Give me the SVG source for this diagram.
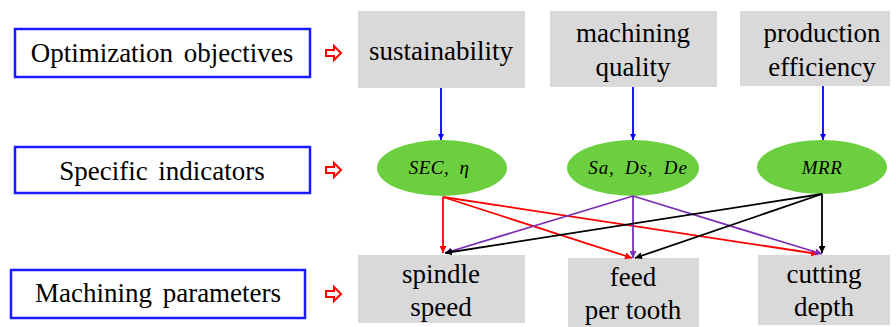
<svg xmlns="http://www.w3.org/2000/svg" width="896" height="327" viewBox="0 0 896 327">
<defs>
<marker id="mb" viewBox="0 0 10 10" refX="10" refY="5" markerWidth="6" markerHeight="6" orient="auto" markerUnits="userSpaceOnUse"><path d="M0,0L10,5L0,10z" fill="#0000ff"/></marker>
<marker id="mr" viewBox="0 0 10 10" refX="10" refY="5" markerWidth="7" markerHeight="7" orient="auto" markerUnits="userSpaceOnUse"><path d="M0,0L10,5L0,10z" fill="#ff0000"/></marker>
<marker id="mp" viewBox="0 0 10 10" refX="10" refY="5" markerWidth="7" markerHeight="7" orient="auto" markerUnits="userSpaceOnUse"><path d="M0,0L10,5L0,10z" fill="#7b2fb5"/></marker>
<marker id="mk" viewBox="0 0 10 10" refX="10" refY="5" markerWidth="7" markerHeight="7" orient="auto" markerUnits="userSpaceOnUse"><path d="M0,0L10,5L0,10z" fill="#000"/></marker>
<path id="harrow" d="M0,-3L8,-3L8,-7L15,0L8,7L8,3L0,3z" fill="#fff" stroke="#ff0000" stroke-width="2"/>
</defs>

<g id="label-objectives"><rect x="15" y="29" width="295" height="48" fill="#fff" stroke="#1a1aff" stroke-width="2.5"/><text x="162" y="62" font-family="Liberation Serif" font-size="27" text-anchor="middle" word-spacing="4" style="font-family:'Liberation Serif',serif !important">Optimization objectives</text><use href="#harrow" x="326" y="53"/></g>
<g id="label-indicators"><rect x="15" y="147" width="295" height="46" fill="#fff" stroke="#1a1aff" stroke-width="2.5"/><text x="162" y="180" font-family="Liberation Serif" font-size="27" text-anchor="middle" word-spacing="4" style="font-family:'Liberation Serif',serif !important">Specific indicators</text><use href="#harrow" x="326" y="170"/></g>
<g id="label-parameters"><rect x="11" y="270" width="294" height="48" fill="#fff" stroke="#1a1aff" stroke-width="2.5"/><text x="158" y="302" font-family="Liberation Serif" font-size="27" text-anchor="middle" word-spacing="4" style="font-family:'Liberation Serif',serif !important">Machining parameters</text><use href="#harrow" x="326" y="294"/></g>

<g id="sustainability"><rect x="358" y="11" width="167" height="77" fill="#d9d9d9"/><text x="441" y="60" font-family="Liberation Serif" font-size="27" text-anchor="middle" style="font-family:'Liberation Serif',serif !important">sustainability</text></g>
<g id="machining-quality"><rect x="550" y="11" width="167" height="76" fill="#d9d9d9"/><text x="633" y="42" font-family="Liberation Serif" font-size="27" text-anchor="middle" style="font-family:'Liberation Serif',serif !important">machining</text><text x="633" y="76" font-family="Liberation Serif" font-size="27" text-anchor="middle" style="font-family:'Liberation Serif',serif !important">quality</text></g>
<g id="production-efficiency"><rect x="740" y="11" width="150" height="75" fill="#d9d9d9"/><text x="822" y="42" font-family="Liberation Serif" font-size="27" text-anchor="middle" style="font-family:'Liberation Serif',serif !important">production</text><text x="822" y="76" font-family="Liberation Serif" font-size="27" text-anchor="middle" style="font-family:'Liberation Serif',serif !important">efficiency</text></g>

<g id="sec"><ellipse cx="442" cy="168" rx="65" ry="28" fill="#6ccf3f"/><text x="439" y="174" font-family="Liberation Serif" font-style="italic" font-size="19" text-anchor="middle" word-spacing="5" letter-spacing="0.5" style="font-family:'Liberation Serif',serif !important">SEC, η</text></g>
<g id="sa"><ellipse cx="633" cy="168" rx="66" ry="28" fill="#6ccf3f"/><text x="638" y="174" font-family="Liberation Serif" font-style="italic" font-size="19" text-anchor="middle" word-spacing="5" letter-spacing="0.8" style="font-family:'Liberation Serif',serif !important">Sa, Ds, De</text></g>
<g id="mrr"><ellipse cx="822" cy="167" rx="65" ry="27" fill="#6ccf3f"/><text x="822" y="174" font-family="Liberation Serif" font-style="italic" font-size="19" text-anchor="middle" letter-spacing="0.5" style="font-family:'Liberation Serif',serif !important">MRR</text></g>

<g id="spindle-speed"><rect x="358" y="255" width="167" height="68" fill="#d9d9d9"/><text x="441" y="283" font-family="Liberation Serif" font-size="27" text-anchor="middle" style="font-family:'Liberation Serif',serif !important">spindle</text><text x="441" y="316" font-family="Liberation Serif" font-size="27" text-anchor="middle" style="font-family:'Liberation Serif',serif !important">speed</text></g>
<g id="feed-per-tooth"><rect x="568" y="258" width="131" height="69" fill="#d9d9d9"/><text x="633" y="286" font-family="Liberation Serif" font-size="27" text-anchor="middle" style="font-family:'Liberation Serif',serif !important">feed</text><text x="633" y="319" font-family="Liberation Serif" font-size="27" text-anchor="middle" style="font-family:'Liberation Serif',serif !important">per tooth</text></g>
<g id="cutting-depth"><rect x="758" y="255" width="132" height="70" fill="#d9d9d9"/><text x="824" y="283" font-family="Liberation Serif" font-size="27" text-anchor="middle" style="font-family:'Liberation Serif',serif !important">cutting</text><text x="824" y="316" font-family="Liberation Serif" font-size="27" text-anchor="middle" style="font-family:'Liberation Serif',serif !important">depth</text></g>

<g id="connectors" fill="none" stroke-width="1.8">
<line x1="441" y1="88" x2="441" y2="140" stroke="#0000ff" marker-end="url(#mb)"/>
<line x1="633" y1="87" x2="633" y2="140" stroke="#0000ff" marker-end="url(#mb)"/>
<line x1="823" y1="86" x2="823" y2="140" stroke="#0000ff" marker-end="url(#mb)"/>
<line x1="443" y1="197" x2="443" y2="253" stroke="#ff0000" marker-end="url(#mr)"/>
<line x1="443" y1="197" x2="632" y2="258" stroke="#ff0000" marker-end="url(#mr)"/>
<line x1="443" y1="197" x2="818" y2="254" stroke="#ff0000" marker-end="url(#mr)"/>
<line x1="633" y1="196" x2="445" y2="253" stroke="#7b2fb5" marker-end="url(#mp)"/>
<line x1="633" y1="196" x2="633" y2="258" stroke="#7b2fb5" marker-end="url(#mp)"/>
<line x1="633" y1="196" x2="822" y2="254" stroke="#7b2fb5" marker-end="url(#mp)"/>
<line x1="822" y1="194" x2="445" y2="253" stroke="#000" marker-end="url(#mk)"/>
<line x1="822" y1="194" x2="635" y2="258" stroke="#000" marker-end="url(#mk)"/>
<line x1="822" y1="194" x2="822" y2="253" stroke="#000" marker-end="url(#mk)"/>
</g>
</svg>
